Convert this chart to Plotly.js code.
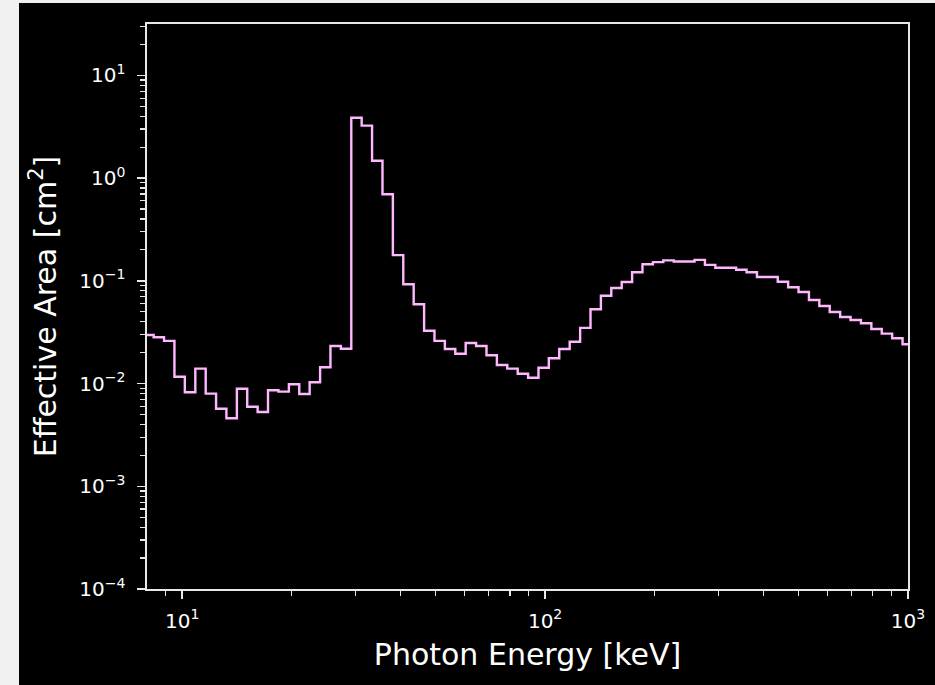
<!DOCTYPE html>
<html>
<head>
<meta charset="utf-8">
<script src="https://cdn.plot.ly/plotly-3.0.1.min.js"></script>
<style>
  html, body { margin: 0; padding: 0; background: #f0f0f0; width: 935px; height: 685px; overflow: hidden; }
  #chart { position: absolute; left: 19px; top: 3px; width: 916px; height: 682px; }
</style>
</head>
<body>
<div id="chart"></div>
<script>
// Log-spaced bin edges (keV)
const binEdges = [7.811, 8.344, 8.913, 9.521, 10.17, 10.87, 11.61, 12.40, 13.24, 14.15,
  15.11, 16.14, 17.24, 18.42, 19.68, 21.02, 22.45, 23.99, 25.62, 27.37,
  29.24, 31.23, 33.36, 35.64, 38.07, 40.67, 43.44, 46.41, 49.57, 52.95,
  56.57, 60.42, 64.55, 68.95, 73.65, 78.68, 84.05, 89.78, 95.90, 102.4,
  109.4, 116.9, 124.9, 133.4, 142.5, 152.2, 162.6, 173.7, 185.5, 198.2,
  211.7, 226.2, 241.6, 258.1, 275.7, 294.5, 314.6, 336.1, 359.0, 383.5,
  409.6, 437.6, 467.4, 499.3, 533.4, 569.8, 608.6, 650.2, 694.5, 741.9,
  792.5, 846.6, 904.3, 966.0, 1031.9];

// Effective area per bin (cm^2)
const effArea = [0.0297, 0.0282, 0.0260, 0.01166, 0.00822, 0.01396, 0.00797, 0.00569, 0.00459, 0.00891,
  0.00595, 0.00528, 0.00860, 0.00834, 0.00984, 0.00791, 0.01028, 0.01439, 0.0232, 0.0218,
  3.87, 3.24, 1.476, 0.695, 0.178, 0.0925, 0.0591, 0.0327, 0.0260, 0.0217,
  0.01953, 0.0248, 0.0232, 0.01884, 0.01517, 0.01396, 0.01247, 0.01140, 0.01426, 0.01762,
  0.0217, 0.0255, 0.0348, 0.0528, 0.0716, 0.0851, 0.0974, 0.121, 0.145, 0.152,
  0.158, 0.154, 0.154, 0.160, 0.143, 0.134, 0.134, 0.128, 0.121, 0.109,
  0.109, 0.098, 0.0865, 0.0778, 0.0650, 0.0569, 0.0497, 0.0445, 0.0416, 0.0386,
  0.0340, 0.0306, 0.0276, 0.0241];

const xTickVals = [10, 100, 1000];
const xTickText = ['10<sup>1</sup>', '10<sup>2</sup>', '10<sup>3</sup>'];
const yTickVals = [1e-4, 1e-3, 1e-2, 1e-1, 1, 10];
const yTickText = ['10<sup>\u22124</sup>', '10<sup>\u22123</sup>', '10<sup>\u22122</sup>',
                   '10<sup>\u22121</sup>', '10<sup>0</sup>', '10<sup>1</sup>'];

function minorTicks(decades, lo, hi) {
  const out = [];
  decades.forEach(d => { for (let m = 2; m <= 9; m++) { const v = m * d; if (v > lo && v < hi) out.push(v); } });
  return out;
}
const xMinor = minorTicks([1, 10, 100], 8, 1000);
const yMinor = minorTicks([1e-4, 1e-3, 1e-2, 1e-1, 1, 10], 1e-4, 31.6);

const stepY = effArea.concat([effArea[effArea.length - 1]]);

const font = "'DejaVu Sans', sans-serif";
const axisColor = '#e8e8e8';

const trace = {
  x: binEdges,
  y: stepY,
  type: 'scatter',
  mode: 'lines',
  line: { shape: 'hv', color: '#ffb8ff', width: 2.4 },
  hoverinfo: 'x+y'
};

const layout = {
  width: 916, height: 682,
  margin: { l: 128, r: 27, t: 21, b: 96, pad: 0 },
  paper_bgcolor: '#000000',
  plot_bgcolor: '#000000',
  showlegend: false,
  font: { family: font, color: '#ffffff', size: 20 },
  xaxis: {
    type: 'log',
    range: [Math.log10(8), 3],
    showgrid: false, zeroline: false,
    showline: true, linecolor: axisColor, linewidth: 1.6, mirror: true,
    ticks: 'outside', ticklen: 8, tickwidth: 1.4, tickcolor: axisColor,
    tickmode: 'array', tickvals: xTickVals, ticktext: xTickText,
    tickfont: { family: font, size: 20, color: '#ffffff' },
    ticklabelstandoff: 5,
    minor: { tickmode: 'array', tickvals: xMinor, ticks: 'outside', ticklen: 5, tickwidth: 1.2, tickcolor: axisColor, showgrid: false },
    title: { text: 'Photon Energy [keV]', font: { family: font, size: 30, color: '#ffffff' }, standoff: 12 }
  },
  yaxis: {
    type: 'log',
    range: [-4, 1.5],
    showgrid: false, zeroline: false,
    showline: true, linecolor: axisColor, linewidth: 1.6, mirror: true,
    ticks: 'outside', ticklen: 8, tickwidth: 1.4, tickcolor: axisColor,
    tickmode: 'array', tickvals: yTickVals, ticktext: yTickText,
    tickfont: { family: font, size: 20, color: '#ffffff' },
    ticklabelstandoff: 8,
    minor: { tickmode: 'array', tickvals: yMinor, ticks: 'outside', ticklen: 5, tickwidth: 1.2, tickcolor: axisColor, showgrid: false },
    title: { text: 'Effective Area [cm<sup>2</sup>]', font: { family: font, size: 30, color: '#ffffff' }, standoff: 14 }
  }
};

Plotly.newPlot('chart', [trace], layout, { displayModeBar: false, staticPlot: true });
</script>
</body>
</html>
